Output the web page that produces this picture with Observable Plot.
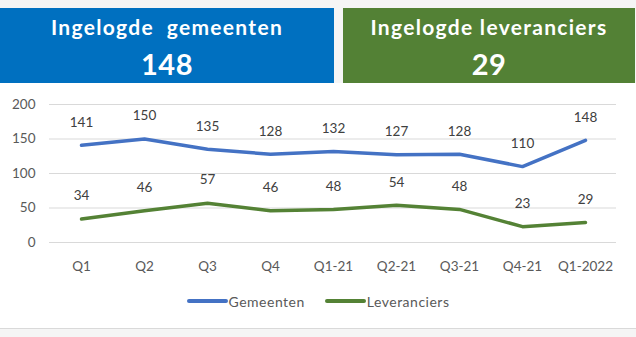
<!DOCTYPE html>
<html>
<head>
<meta charset="utf-8">
<script src="https://cdn.jsdelivr.net/npm/d3@7"></script>
<script src="https://cdn.jsdelivr.net/npm/@observablehq/plot@0.6"></script>
<style>
  html, body { margin: 0; padding: 0; background: #f5f5f5; width: 636px; height: 337px; overflow: hidden; font-family: Lato, "Open Sans", sans-serif; }
  #header { position: relative; height: 83px; }
  .box { position: absolute; top: 8px; height: 75px; color: white; text-align: center; font-weight: bold; }
  .box .t { position: absolute; left: 0; right: 0; top: 7px; font-size: 21px; line-height: 24px; letter-spacing: 1.3px; white-space: pre; }
  .box .n { position: absolute; left: 0; right: 0; top: 40px; font-size: 29px; line-height: 32px; letter-spacing: 0.5px; }
  #blue { left: 0; width: 334px; background: #0070C0; }
  #green { left: 343px; width: 292px; background: #538135; }
  #panel { background: white; height: 245px; border-bottom: 1px solid #d9d9d9; }
  #chart svg { display: block; }
  #legend { display: flex; justify-content: center; align-items: center; height: 14px; padding-top: 9px; font-size: 14px; letter-spacing: 0.5px; color: #595959; }
  .item { display: flex; align-items: center; margin: 0 10px; }
  .sw { width: 41px; height: 4px; border-radius: 2px; margin-right: 1px; }
</style>
</head>
<body>
<div id="header">
  <div class="box" id="blue"><div class="t" id="t1"></div><div class="n" id="n1"></div></div>
  <div class="box" id="green"><div class="t" id="t2"></div><div class="n" id="n2"></div></div>
</div>
<div id="panel">
  <div id="chart"></div>
  <div id="legend"></div>
</div>
<script>
const quarters = ["Q1", "Q2", "Q3", "Q4", "Q1-21", "Q2-21", "Q3-21", "Q4-21", "Q1-2022"];
const gemeenten = [141, 150, 135, 128, 132, 127, 128, 110, 148];
const leveranciers = [34, 46, 57, 46, 48, 54, 48, 23, 29];
const seriesNames = ["Gemeenten", "Leveranciers"];
const seriesColors = ["#4472C4", "#548235"];
const yTicks = [0, 50, 100, 150, 200];
const headerTitles = ["Ingelogde  gemeenten", "Ingelogde leveranciers"];
const headerValues = [148, 29];

document.getElementById("t1").textContent = headerTitles[0];
document.getElementById("t2").textContent = headerTitles[1];
document.getElementById("n1").textContent = headerValues[0];
document.getElementById("n2").textContent = headerValues[1];

const data = quarters.flatMap((q, i) => [
  {q, v: gemeenten[i], s: seriesNames[0]},
  {q, v: leveranciers[i], s: seriesNames[1]}
]);

const chart = Plot.plot({
  width: 636,
  height: 202,
  marginTop: 21,
  marginBottom: 43,
  marginLeft: 49,
  marginRight: 20,
  style: {fontFamily: "Lato, sans-serif", fontSize: "13.5px", color: "#595959", background: "white", overflow: "visible"},
  x: {type: "point", domain: quarters, padding: 0.5, label: null},
  y: {domain: [0, 200], label: null},
  color: {domain: seriesNames, range: seriesColors},
  marks: [
    Plot.gridY(yTicks, {stroke: "#d9d9d9", strokeOpacity: 1, strokeWidth: 1}),
    Plot.axisY(yTicks, {tickSize: 0, tickPadding: 14, label: null, fill: "#595959"}),
    Plot.axisX({tickSize: 0, tickPadding: 19, label: null, fill: "#595959"}),
    Plot.lineY(data, {x: "q", y: "v", z: "s", stroke: "s", strokeWidth: 3.5, strokeLinejoin: "round", strokeLinecap: "round"}),
    Plot.text(data, {x: "q", y: "v", text: d => String(d.v), dy: -23, fill: "#404040", fontSize: 13.5})
  ]
});
document.getElementById("chart").appendChild(chart);

const legend = document.getElementById("legend");
seriesNames.forEach((name, i) => {
  const item = document.createElement("div");
  item.className = "item";
  const sw = document.createElement("span");
  sw.className = "sw";
  sw.style.background = seriesColors[i];
  const label = document.createElement("span");
  label.textContent = name;
  item.appendChild(sw);
  item.appendChild(label);
  legend.appendChild(item);
});
</script>
</body>
</html>
